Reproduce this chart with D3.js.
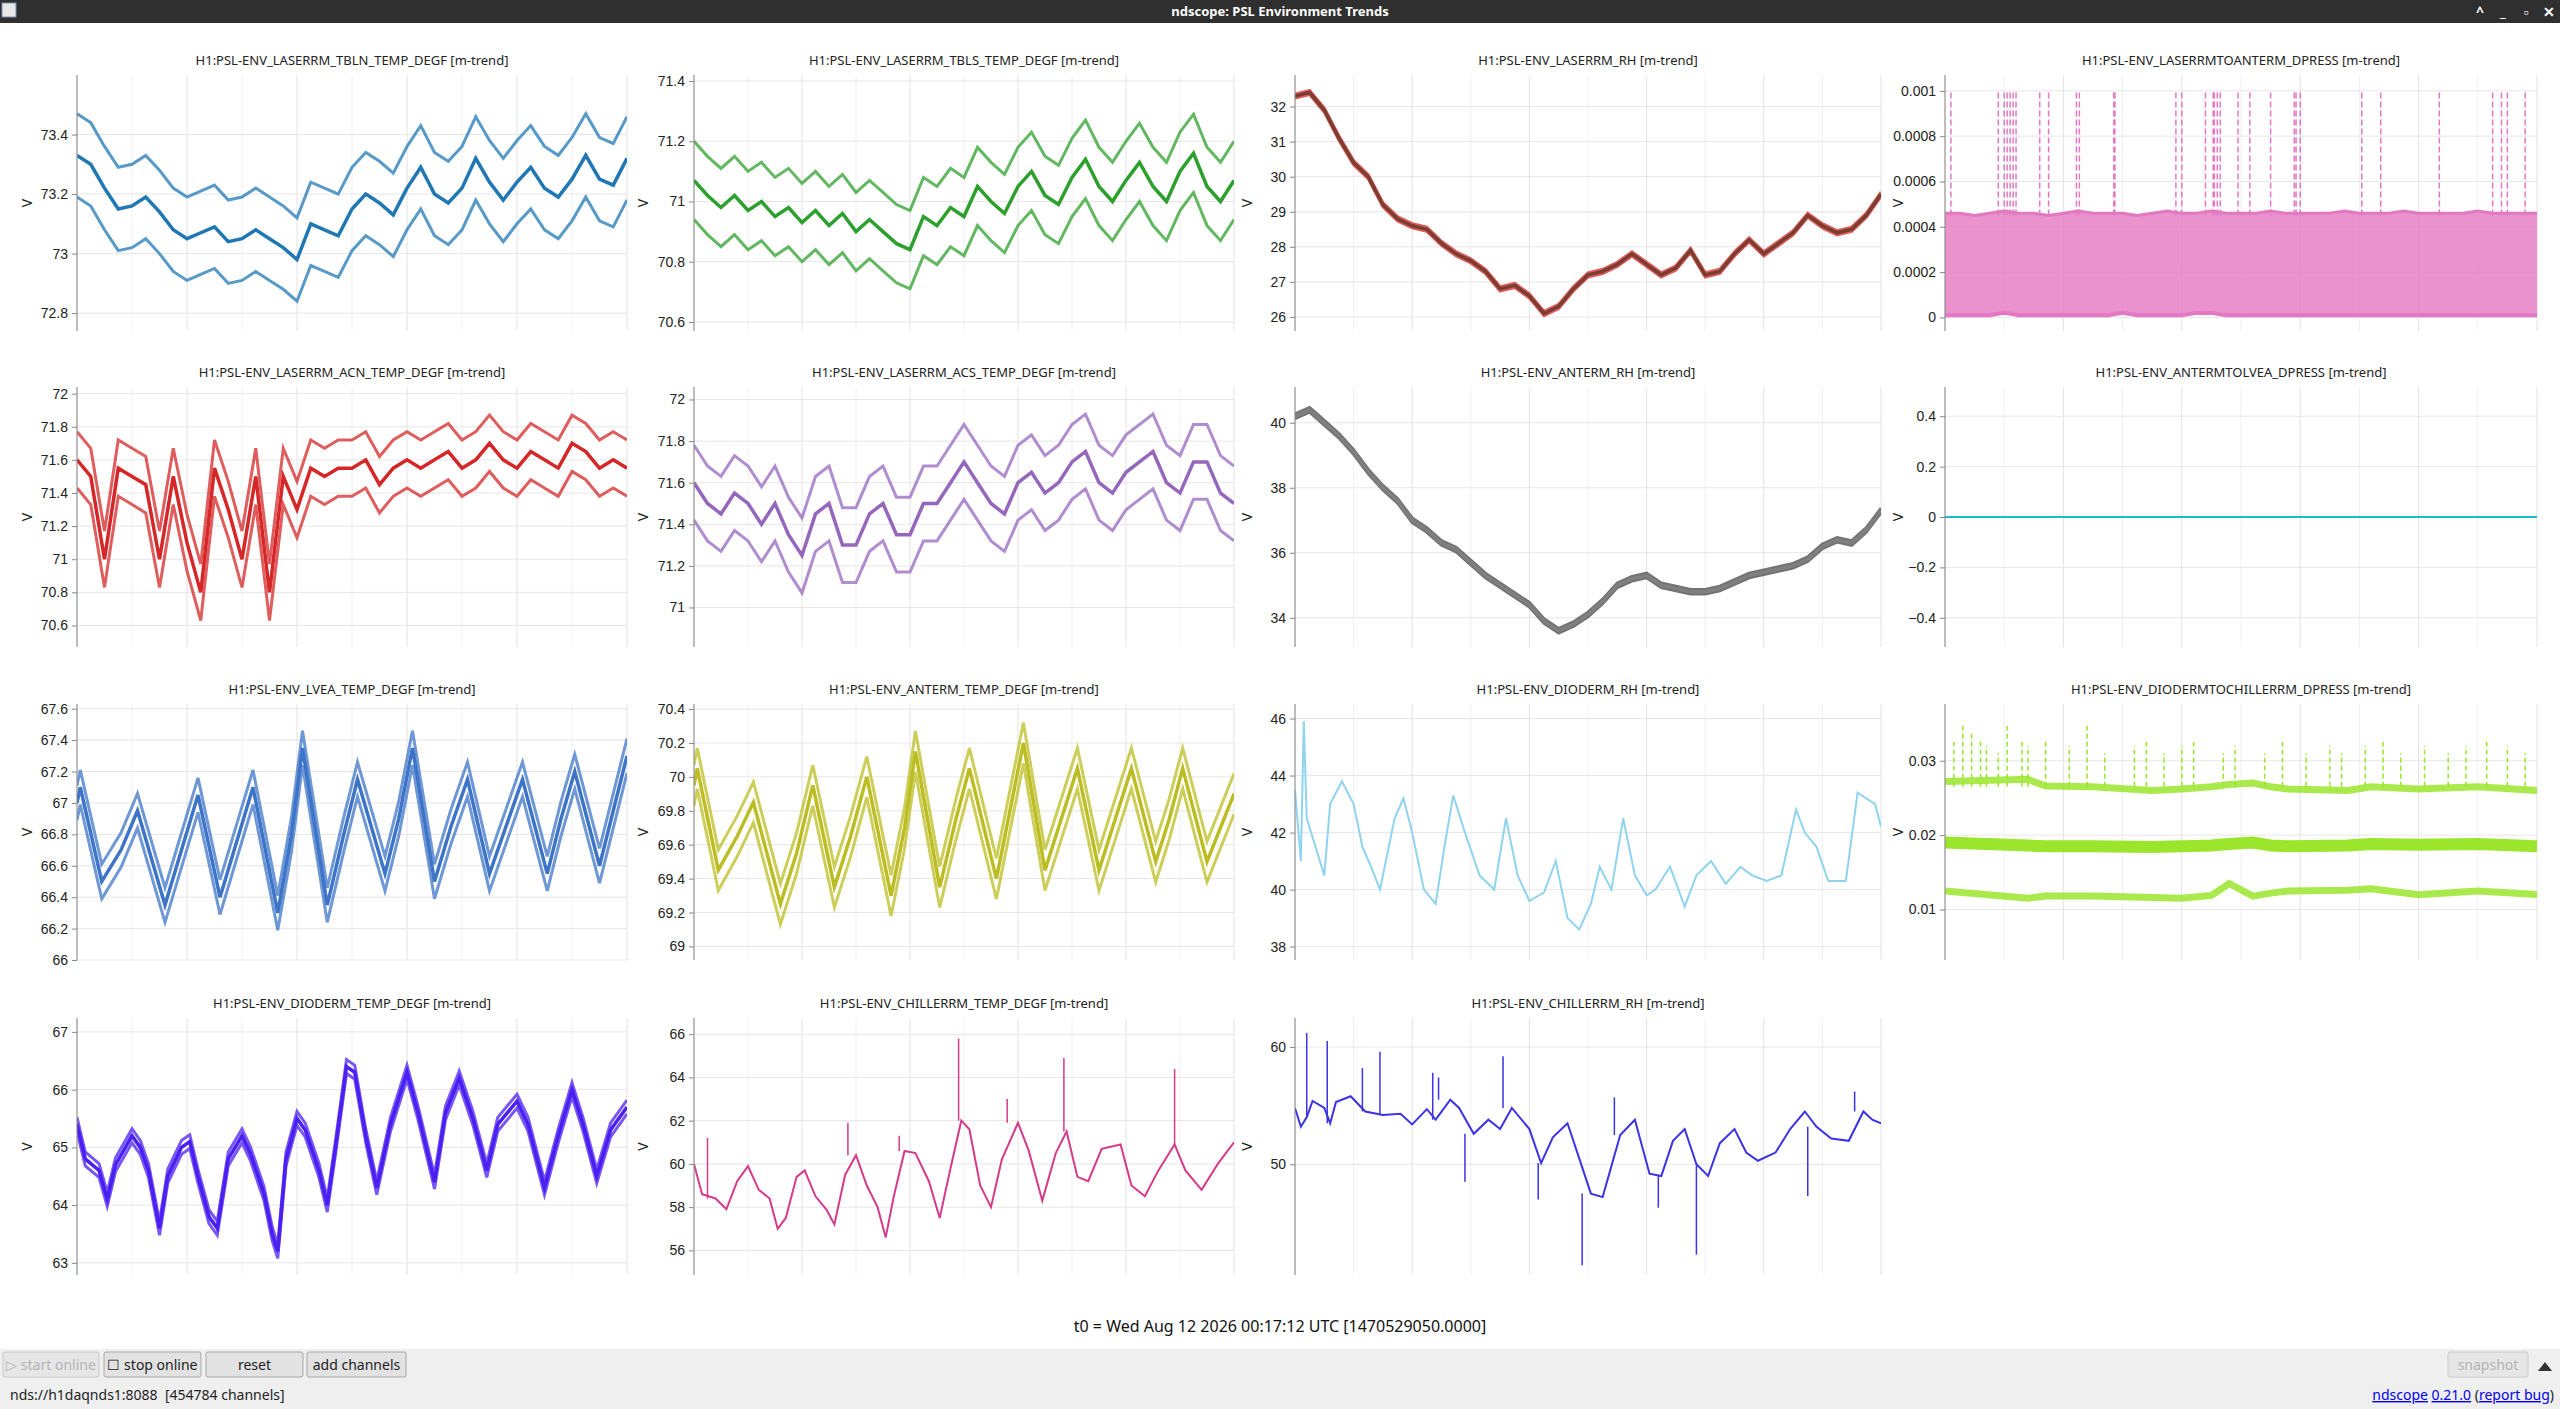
<!DOCTYPE html>
<html>
<head>
<meta charset="utf-8">
<script src="https://d3js.org/d3.v7.min.js"></script>
<style>
  body { margin: 0; background: #fff; overflow: hidden; }
  svg { display: block; font-family: "Noto Sans", "Open Sans", sans-serif; }
  .tick text { font-size: 14px; fill: #222; }
</style>
</head>
<body>
<div id="scope"></div>
<script>
// time axis (days before t0)
var grid41 = d3.range(41).map(i => -10 + i * 0.25);
var xTicks = [-10, -8, -6, -4, -2, 0];

// ---- channel data ----
var tblnMid = [73.33,73.3,73.22,73.15,73.16,73.19,73.14,73.08,73.05,73.07,73.09,73.04,73.05,73.08,73.05,73.02,72.98,73.1,73.08,73.06,73.15,73.2,73.17,73.13,73.22,73.29,73.2,73.17,73.22,73.32,73.24,73.18,73.24,73.29,73.22,73.19,73.25,73.33,73.25,73.23,73.32];
var tblsMid = [71.07,71.02,70.98,71.02,70.97,71.0,70.95,70.98,70.93,70.97,70.92,70.96,70.9,70.94,70.9,70.86,70.84,70.95,70.92,70.98,70.95,71.05,71.0,70.96,71.05,71.1,71.02,70.99,71.08,71.14,71.05,71.0,71.07,71.13,71.05,71.0,71.1,71.16,71.05,71.0,71.07];
var laserRh = [32.3,32.4,31.9,31.1,30.4,30.0,29.2,28.8,28.6,28.5,28.1,27.8,27.6,27.3,26.8,26.9,26.6,26.1,26.3,26.8,27.2,27.3,27.5,27.8,27.5,27.2,27.4,27.9,27.2,27.3,27.8,28.2,27.8,28.1,28.4,28.9,28.6,28.4,28.5,28.9,29.5];
var toAntMax = [0.00046,0.00046,0.00045,0.00046,0.00047,0.00046,0.00046,0.00045,0.00046,0.00047,0.00046,0.00046,0.00046,0.00045,0.00046,0.00047,0.00046,0.00046,0.00047,0.00046,0.00046,0.00046,0.00047,0.00046,0.00046,0.00046,0.00046,0.00047,0.00046,0.00046,0.00046,0.00047,0.00046,0.00046,0.00046,0.00046,0.00047,0.00046,0.00046,0.00046,0.00046];
var toAntMin = [0.00001,0.00001,0.00001,0.00001,0.00002,0.00001,0.00001,0.00001,0.00001,0.00001,0.00001,0.00001,0.00002,0.00001,0.00001,0.00001,0.00001,0.00002,0.00002,0.00001,0.00001,0.00001,0.00001,0.00001,0.00001,0.00001,0.00001,0.00001,0.00001,0.00001,0.00001,0.00001,0.00001,0.00001,0.00001,0.00001,0.00001,0.00001,0.00001,0.00001,0.00001];
var toAntSpikeT = [-9.9,-9.1,-9.0,-8.95,-8.9,-8.85,-8.8,-8.4,-8.25,-7.78,-7.73,-7.15,-7.13,-6.1,-6.0,-5.6,-5.47,-5.45,-5.4,-5.35,-5.05,-4.85,-4.5,-4.1,-4.07,-4.0,-2.96,-2.64,-1.65,-0.75,-0.6,-0.5,-0.2];
var acnMid = [71.6,71.5,71.0,71.55,71.5,71.45,71.0,71.5,71.1,70.8,71.55,71.3,71.0,71.5,70.8,71.5,71.3,71.55,71.5,71.55,71.55,71.6,71.45,71.55,71.6,71.55,71.6,71.65,71.55,71.6,71.7,71.6,71.55,71.65,71.6,71.55,71.7,71.65,71.55,71.6,71.55];
var acsMid = [71.6,71.5,71.45,71.55,71.5,71.4,71.5,71.35,71.25,71.45,71.5,71.3,71.3,71.45,71.5,71.35,71.35,71.5,71.5,71.6,71.7,71.6,71.5,71.45,71.6,71.65,71.55,71.6,71.7,71.75,71.6,71.55,71.65,71.7,71.75,71.6,71.55,71.7,71.7,71.55,71.5];
var antRh = [40.2,40.4,40.0,39.6,39.1,38.5,38.0,37.6,37.0,36.7,36.3,36.1,35.7,35.3,35.0,34.7,34.4,33.9,33.6,33.8,34.1,34.5,35.0,35.2,35.3,35.0,34.9,34.8,34.8,34.9,35.1,35.3,35.4,35.5,35.6,35.8,36.2,36.4,36.3,36.7,37.3];
var toLveaT = [-10, 0];
var toLvea = [0, 0];
var dailyT = [-10,-9.94,-9.55,-9.2,-8.9,-8.4,-8.1,-7.8,-7.4,-7.1,-6.8,-6.35,-6.1,-5.9,-5.45,-5.15,-4.9,-4.4,-4.15,-3.9,-3.5,-3.2,-2.9,-2.5,-2.2,-1.9,-1.45,-1.2,-0.95,-0.5,-0.25,0];
var lveaMid = [67.0,67.1,66.5,66.7,66.95,66.35,66.7,67.05,66.4,66.75,67.1,66.3,66.8,67.35,66.35,66.8,67.15,66.55,66.9,67.35,66.5,66.85,67.15,66.55,66.85,67.15,66.55,66.9,67.2,66.6,66.95,67.3];
var antTempMid = [69.95,70.05,69.45,69.65,69.85,69.25,69.55,69.95,69.35,69.65,70.0,69.3,69.7,70.15,69.35,69.75,70.05,69.4,69.8,70.2,69.45,69.75,70.05,69.45,69.75,70.05,69.5,69.75,70.05,69.5,69.7,69.9];
var diodeRhT = [-10,-9.9,-9.85,-9.8,-9.65,-9.5,-9.4,-9.2,-9.0,-8.85,-8.7,-8.55,-8.3,-8.15,-8.0,-7.8,-7.6,-7.45,-7.3,-7.1,-6.85,-6.6,-6.4,-6.2,-6.0,-5.75,-5.55,-5.35,-5.15,-4.95,-4.8,-4.6,-4.4,-4.2,-4.0,-3.85,-3.6,-3.35,-3.15,-2.9,-2.65,-2.4,-2.2,-1.95,-1.7,-1.45,-1.3,-1.1,-0.9,-0.6,-0.4,-0.1,0];
var diodeRh = [43.5,41.0,45.9,42.5,41.5,40.5,43.0,43.8,43.0,41.5,40.8,40.0,42.5,43.2,42.0,40.0,39.5,41.5,43.3,42.0,40.5,40.0,42.5,40.5,39.6,39.9,41.0,39.0,38.6,39.5,40.8,40.0,42.5,40.5,39.8,40.0,40.8,39.4,40.5,41.0,40.2,40.8,40.5,40.3,40.5,42.8,42.0,41.5,40.3,40.3,43.4,43.0,42.2];
var dpT = [-10,-8.6,-8.3,-7.5,-6.5,-6.0,-5.5,-5.2,-4.8,-4.5,-4.2,-3.2,-2.8,-2.0,-1.0,0];
var dpUpper = [0.0272,0.0275,0.0266,0.0265,0.026,0.0262,0.0265,0.0268,0.027,0.0265,0.0262,0.026,0.0265,0.0262,0.0265,0.026];
var dpMid = [0.019,0.0186,0.0185,0.0185,0.0184,0.0185,0.0186,0.0188,0.019,0.0186,0.0185,0.0186,0.0188,0.0187,0.0188,0.0185];
var dpLower = [0.0125,0.0115,0.0118,0.0118,0.0116,0.0115,0.0119,0.0135,0.0118,0.0122,0.0125,0.0126,0.0128,0.012,0.0125,0.012];
var dpSpikeT = [-9.85,-9.7,-9.55,-9.4,-9.3,-9.1,-8.95,-8.7,-8.6,-8.3,-7.9,-7.6,-7.3,-6.8,-6.6,-6.3,-6.0,-5.8,-5.3,-5.1,-4.6,-4.3,-3.9,-3.5,-3.3,-2.9,-2.6,-2.3,-1.9,-1.5,-1.2,-0.85,-0.5,-0.2];
var dpSpikeV = [0.033,0.035,0.034,0.033,0.032,0.031,0.035,0.033,0.032,0.033,0.032,0.035,0.031,0.032,0.033,0.031,0.032,0.033,0.031,0.032,0.031,0.033,0.031,0.032,0.031,0.032,0.033,0.031,0.032,0.031,0.032,0.033,0.032,0.031];
var diodeTempT = [-10,-9.85,-9.6,-9.45,-9.3,-9.0,-8.85,-8.7,-8.5,-8.35,-8.1,-7.95,-7.8,-7.6,-7.45,-7.25,-7.0,-6.85,-6.6,-6.45,-6.35,-6.2,-6.0,-5.85,-5.6,-5.45,-5.3,-5.1,-4.95,-4.75,-4.55,-4.3,-4.0,-3.8,-3.5,-3.3,-3.05,-2.8,-2.55,-2.35,-2.0,-1.8,-1.5,-1.25,-1.0,-0.8,-0.55,-0.3,0];
var diodeTempMid = [65.4,64.8,64.6,64.1,64.7,65.2,65.0,64.6,63.6,64.5,65.0,65.1,64.5,63.8,63.6,64.8,65.2,64.9,64.2,63.5,63.2,64.8,65.5,65.3,64.6,64.0,65.0,66.4,66.3,65.2,64.3,65.4,66.3,65.6,64.4,65.6,66.2,65.5,64.6,65.4,65.8,65.4,64.3,65.2,66.0,65.4,64.5,65.3,65.7];
var chillerTempT = [-10,-9.85,-9.6,-9.4,-9.2,-9.0,-8.8,-8.6,-8.45,-8.3,-8.1,-7.95,-7.75,-7.55,-7.4,-7.2,-7.0,-6.8,-6.6,-6.45,-6.3,-6.1,-5.9,-5.65,-5.45,-5.25,-5.05,-4.9,-4.7,-4.5,-4.3,-4.0,-3.8,-3.55,-3.3,-3.1,-2.9,-2.7,-2.45,-2.1,-1.9,-1.65,-1.4,-1.1,-0.9,-0.6,-0.3,0];
var chillerTemp = [60.0,58.6,58.4,57.9,59.2,59.9,58.8,58.4,57.0,57.5,59.4,59.7,58.5,57.9,57.2,59.5,60.4,59.0,58.0,56.6,58.5,60.6,60.5,59.2,57.5,59.8,62.0,61.6,59.0,58.0,60.2,61.9,60.6,58.3,60.5,61.5,59.4,59.2,60.7,60.9,59.0,58.5,59.7,60.9,59.7,58.8,60.0,61.0];
var chillerTempSpikeT = [-9.75,-7.15,-6.2,-5.1,-4.2,-3.15,-1.1];
var chillerTempSpikeV = [61.2,61.9,61.3,65.8,63.0,64.9,64.4];
var chillerRhT = [-10,-9.9,-9.8,-9.7,-9.5,-9.4,-9.3,-9.05,-8.8,-8.5,-8.2,-8.0,-7.75,-7.6,-7.35,-7.2,-6.95,-6.7,-6.5,-6.3,-6.0,-5.8,-5.6,-5.35,-5.15,-4.95,-4.75,-4.45,-4.2,-3.95,-3.75,-3.55,-3.35,-3.15,-2.95,-2.75,-2.5,-2.3,-2.1,-1.8,-1.55,-1.3,-1.1,-0.85,-0.55,-0.3,-0.15,0];
var chillerRh = [54.8,53.2,54.0,55.4,54.8,53.5,55.3,55.8,54.5,54.2,54.3,53.4,54.7,53.8,55.5,54.8,52.6,53.8,53.0,54.8,53.0,50.1,52.3,53.5,50.5,47.5,47.2,52.5,53.8,49.2,49.0,52.0,53.0,50.0,49.0,51.8,53.0,51.0,50.3,51.0,53.0,54.5,53.2,52.2,52.0,54.5,53.8,53.5];
var chillerRhSpikeT = [-9.8,-9.45,-8.85,-8.55,-7.65,-7.55,-6.45,-4.55,-5.1,-3.15,-5.85,-3.8,-0.45,-1.25,-7.1];
var chillerRhSpikeV = [61.2,60.5,58.2,59.6,57.8,57.4,59.2,55.7,41.4,42.3,47.0,46.3,56.2,47.3,48.5];

// ---- page layout ----
var W = 2560, H = 1409;
var colLeft = [77, 694, 1295, 1945], colRight = [627, 1234, 1881, 2537], vLabelX = [27, 643, 1247, 1898];
var rowTop = [75, 387, 704, 1018], rowBottom = [331, 647, 960, 1275], titleY = [65, 377, 694, 1008];

var panels = [
  {r:0,c:0,name:"H1:PSL-ENV_LASERRM_TBLN_TEMP_DEGF",color:"#1f77b4",t:grid41,v:tblnMid,spread:0.14,dom:[72.74,73.6],ticks:[72.8,73,73.2,73.4]},
  {r:0,c:1,name:"H1:PSL-ENV_LASERRM_TBLS_TEMP_DEGF",color:"#2ca02c",t:grid41,v:tblsMid,spread:0.13,dom:[70.57,71.42],ticks:[70.6,70.8,71,71.2,71.4]},
  {r:0,c:2,name:"H1:PSL-ENV_LASERRM_RH",color:"#7a3d30",band:"#d62728",t:grid41,v:laserRh,spread:0.06,dom:[25.6,32.9],ticks:[26,27,28,29,30,31,32]},
  {r:0,c:3,name:"H1:PSL-ENV_LASERRMTOANTERM_DPRESS",color:"#e377c2",fill:true,t:grid41,vmin:toAntMin,vmax:toAntMax,spikeT:toAntSpikeT,spikeTo:0.001,dom:[-0.00006,0.00107],ticks:[0,0.0002,0.0004,0.0006,0.0008,0.001]},
  {r:1,c:0,name:"H1:PSL-ENV_LASERRM_ACN_TEMP_DEGF",color:"#d62728",t:grid41,v:acnMid,spread:0.17,dom:[70.47,72.04],ticks:[70.6,70.8,71,71.2,71.4,71.6,71.8,72]},
  {r:1,c:1,name:"H1:PSL-ENV_LASERRM_ACS_TEMP_DEGF",color:"#9467bd",t:grid41,v:acsMid,spread:0.18,dom:[70.81,72.06],ticks:[71,71.2,71.4,71.6,71.8,72]},
  {r:1,c:2,name:"H1:PSL-ENV_ANTERM_RH",color:"#7f7f7f",band:"#444",t:grid41,v:antRh,spread:0.07,dom:[33.1,41.1],ticks:[34,36,38,40]},
  {r:1,c:3,name:"H1:PSL-ENV_ANTERMTOLVEA_DPRESS",color:"#17becf",t:toLveaT,v:toLvea,dom:[-0.516,0.516],ticks:[-0.4,-0.2,0,0.2,0.4]},
  {r:2,c:0,name:"H1:PSL-ENV_LVEA_TEMP_DEGF",color:"#3d74c8",t:dailyT,v:lveaMid,spread:0.11,dom:[66.0,67.63],ticks:[66,66.2,66.4,66.6,66.8,67,67.2,67.4,67.6]},
  {r:2,c:1,name:"H1:PSL-ENV_ANTERM_TEMP_DEGF",color:"#bcbd22",t:dailyT,v:antTempMid,spread:0.12,dom:[68.92,70.43],ticks:[69,69.2,69.4,69.6,69.8,70,70.2,70.4]},
  {r:2,c:2,name:"H1:PSL-ENV_DIODERM_RH",color:"#8fd3f0",t:diodeRhT,v:diodeRh,dom:[37.53,46.51],ticks:[38,40,42,44,46]},
  {r:2,c:3,name:"H1:PSL-ENV_DIODERMTOCHILLERRM_DPRESS",color:"#9be52c",multi:[dpUpper,dpMid,dpLower],t:dpT,spikeT:dpSpikeT,spikeV:dpSpikeV,spikeBase:0.0265,dom:[0.00321,0.03763],ticks:[0.01,0.02,0.03]},
  {r:3,c:0,name:"H1:PSL-ENV_DIODERM_TEMP_DEGF",color:"#4a1ff2",t:diodeTempT,v:diodeTempMid,spread:0.12,dom:[62.79,67.24],ticks:[63,64,65,66,67]},
  {r:3,c:1,name:"H1:PSL-ENV_CHILLERRM_TEMP_DEGF",color:"#d63a8a",t:chillerTempT,v:chillerTemp,spikeT:chillerTempSpikeT,spikeV:chillerTempSpikeV,dom:[54.86,66.75],ticks:[56,58,60,62,64,66]},
  {r:3,c:2,name:"H1:PSL-ENV_CHILLERRM_RH",color:"#3c32e6",t:chillerRhT,v:chillerRh,spikeT:chillerRhSpikeT,spikeV:chillerRhSpikeV,dom:[40.56,62.47],ticks:[50,60]}
];

var svg = d3.select("#scope").append("svg").attr("width", W).attr("height", H);
svg.append("rect").attr("width", W).attr("height", H).attr("fill", "#fff");

// window title bar
svg.append("rect").attr("width", W).attr("height", 23).attr("fill", "#2f2f2f");
svg.append("rect").attr("x", 2).attr("y", 3).attr("width", 14).attr("height", 14).attr("fill", "#e8e8e8").attr("stroke", "#7a8fb0");
svg.append("text").attr("x", W / 2).attr("y", 16).attr("text-anchor", "middle").attr("fill", "#fff")
  .attr("font-size", 13).attr("font-weight", "bold").text("ndscope: PSL Environment Trends");
var ctrl = ["^", "_", "▫", "✕"];
svg.selectAll(null).data(ctrl).enter().append("text")
  .attr("x", (d, k) => 2480 + k * 23).attr("y", 17).attr("text-anchor", "middle")
  .attr("fill", "#fff").attr("font-size", 14).attr("font-weight", "bold").text(d => d);

var defs = svg.append("defs");

panels.forEach(function (p, i) {
  var x0 = colLeft[p.c], x1 = colRight[p.c], y0 = rowTop[p.r], y1 = rowBottom[p.r];
  var x = d3.scaleLinear().domain([-10, 0]).range([x0, x1]);
  var y = d3.scaleLinear().domain(p.dom).range([y1, y0]);
  var g = svg.append("g");

  defs.append("clipPath").attr("id", "clip" + i).append("rect")
    .attr("x", x0).attr("y", y0).attr("width", x1 - x0).attr("height", y1 - y0);
  defs.append("clipPath").attr("id", "xclip" + i).append("rect")
    .attr("x", x0).attr("y", y1).attr("width", x1 - x0 + 1).attr("height", 40);

  // grid
  var minor = d3.range(-9, 0, 2);
  g.selectAll(null).data(minor).enter().append("line")
    .attr("x1", d => x(d)).attr("x2", d => x(d)).attr("y1", y0).attr("y2", y1).attr("stroke", "#f0f0f0");
  g.selectAll(null).data(xTicks).enter().append("line")
    .attr("x1", d => x(d)).attr("x2", d => x(d)).attr("y1", y0).attr("y2", y1).attr("stroke", "#e2e2e2");
  g.selectAll(null).data(p.ticks).enter().append("line")
    .attr("x1", x0).attr("x2", x1).attr("y1", d => y(d)).attr("y2", d => y(d)).attr("stroke", "#e6e6e6");

  var plot = g.append("g").attr("clip-path", "url(#clip" + i + ")");
  var line = d3.line().x((d, k) => x(p.t[k])).y(d => y(d));

  if (p.fill) {
    var area = d3.area().x((d, k) => x(p.t[k])).y0((d, k) => y(p.vmin[k])).y1(d => y(d));
    plot.append("path").datum(p.vmax).attr("d", area).attr("fill", p.color).attr("opacity", 0.8);
    plot.selectAll(null).data(p.spikeT).enter().append("line")
      .attr("x1", d => x(d)).attr("x2", d => x(d)).attr("y1", y(0.00045)).attr("y2", y(p.spikeTo))
      .attr("stroke", p.color).attr("stroke-width", 1.5).attr("stroke-dasharray", "6,3");
    plot.append("path").datum(p.vmax).attr("d", line).attr("fill", "none").attr("stroke", p.color).attr("stroke-width", 3);
    plot.append("path").datum(p.vmin).attr("d", line).attr("fill", "none").attr("stroke", p.color).attr("stroke-width", 4);
  } else if (p.multi) {
    plot.selectAll(null).data(p.spikeT).enter().append("line")
      .attr("x1", d => x(d)).attr("x2", d => x(d)).attr("y1", y(p.spikeBase))
      .attr("y2", (d, k) => y(p.spikeV[k]))
      .attr("stroke", p.color).attr("stroke-width", 1.5).attr("stroke-dasharray", "5,3");
    p.multi.forEach(function (s, k) {
      plot.append("path").datum(s).attr("d", line).attr("fill", "none").attr("stroke", p.color)
        .attr("stroke-width", k === 1 ? 12 : 7).attr("opacity", k === 1 ? 1 : 0.85);
    });
  } else {
    if (p.spikeT) {
      plot.selectAll(null).data(p.spikeT).enter().append("line")
        .attr("x1", d => x(d)).attr("x2", d => x(d))
        .attr("y1", d => y(p.v[d3.bisectLeft(p.t, d)]))
        .attr("y2", (d, k) => y(p.spikeV[k]))
        .attr("stroke", p.color).attr("stroke-width", 1.5);
    }
    if (p.spread) {
      [p.spread, -p.spread].forEach(function (off) {
        plot.append("path").datum(p.v.map(v => v + off)).attr("d", line).attr("fill", "none")
          .attr("stroke", p.band || p.color).attr("stroke-width", 3).attr("opacity", 0.75);
      });
    }
    plot.append("path").datum(p.v).attr("d", line).attr("fill", "none").attr("stroke", p.color)
      .attr("stroke-width", p.spread ? 3.5 : 2);
  }

  // axes
  var yAxis = g.append("g").attr("transform", `translate(${x0},0)`)
    .call(d3.axisLeft(y).tickValues(p.ticks).tickSize(5).tickPadding(4).tickFormat(d3.format("~g")));
  yAxis.select(".domain").attr("stroke", "#888").attr("d", `M0,${y0}V${y1}`);
  yAxis.selectAll(".tick line").attr("stroke", "#888");
  var xAxis = g.append("g").attr("transform", `translate(0,${y1})`).attr("clip-path", "url(#xclip" + i + ")")
    .call(d3.axisBottom(x).tickValues(xTicks).tickSize(5).tickPadding(6).tickFormat(d => d + "d"));
  xAxis.select(".domain").attr("stroke", "#888").attr("d", `M${x0},0H${x1}`);
  xAxis.selectAll(".tick line").attr("stroke", "#888");

  g.append("text").attr("x", (x0 + x1) / 2).attr("y", titleY[p.r]).attr("text-anchor", "middle")
    .attr("font-size", 13).attr("fill", "#222").text(p.name + " [m-trend]");
  g.append("text").attr("transform", `translate(${vLabelX[p.c]},${(y0 + y1) / 2}) rotate(-90)`)
    .attr("text-anchor", "middle").attr("dy", 5).attr("font-size", 14).attr("fill", "#222").text("V");
});

svg.append("text").attr("x", 1280).attr("y", 1332).attr("text-anchor", "middle").attr("font-size", 16).attr("fill", "#111")
  .text("t0 = Wed Aug 12 2026 00:17:12 UTC [1470529050.0000]");

// bottom toolbar
svg.append("rect").attr("y", 1349).attr("width", W).attr("height", H - 1349).attr("fill", "#efefef");
var buttons = [
  {x: 3, w: 96, label: "▷ start online", dim: true},
  {x: 104, w: 97, label: "☐ stop online"},
  {x: 206, w: 97, label: "reset"},
  {x: 307, w: 99, label: "add channels"},
  {x: 2448, w: 80, label: "snapshot", dim: true}
];
buttons.forEach(function (b) {
  svg.append("rect").attr("x", b.x).attr("y", 1352).attr("width", b.w).attr("height", 25).attr("rx", 2)
    .attr("fill", b.dim ? "#e6e6e6" : "#e2e2e2").attr("stroke", b.dim ? "#c8c8c8" : "#a8a8a8");
  svg.append("text").attr("x", b.x + b.w / 2).attr("y", 1370).attr("text-anchor", "middle").attr("font-size", 14)
    .attr("fill", b.dim ? "#b4b4b4" : "#222").text(b.label);
});
svg.append("path").attr("d", "M2538,1371L2545,1362L2552,1371Z").attr("fill", "#333");
svg.append("text").attr("x", 10).attr("y", 1400).attr("font-size", 14).attr("fill", "#222").attr("xml:space", "preserve")
  .text("nds://h1daqnds1:8088  [454784 channels]");
var foot = svg.append("text").attr("x", 2554).attr("y", 1400).attr("text-anchor", "end").attr("font-size", 14).attr("fill", "#222");
foot.append("tspan").attr("fill", "#0000ee").attr("text-decoration", "underline").text("ndscope");
foot.append("tspan").text(" ");
foot.append("tspan").attr("fill", "#0000ee").attr("text-decoration", "underline").text("0.21.0");
foot.append("tspan").text(" (");
foot.append("tspan").attr("fill", "#0000ee").attr("text-decoration", "underline").text("report bug");
foot.append("tspan").text(")");
</script>
</body>
</html>
